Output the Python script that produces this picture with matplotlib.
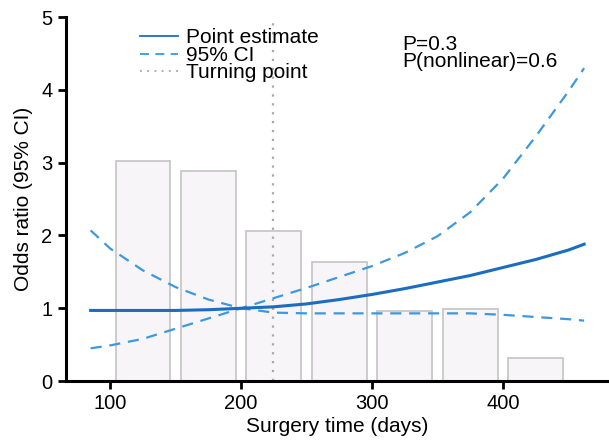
import numpy as np
import matplotlib
matplotlib.use('Agg')
import matplotlib.pyplot as plt

plt.rcParams['font.family'] = ['Liberation Sans', 'DejaVu Sans']

# histogram of surgery time (scaled), bin centres and heights
bin_centers = [125, 175, 225, 275, 325, 375, 425]
bin_heights = [3.02, 2.88, 2.06, 1.64, 0.96, 0.99, 0.32]

# restricted cubic spline curve
xs = [85, 100, 125, 150, 175, 200, 225, 250, 275, 300, 325, 350, 375, 400, 425, 450, 462]
point_est = [0.97, 0.97, 0.97, 0.97, 0.98, 1.00, 1.02, 1.06, 1.12, 1.19, 1.27, 1.36, 1.45, 1.56, 1.67, 1.80, 1.88]
ci_upper = [0.45, 0.49, 0.58, 0.72, 0.86, 1.00, 1.14, 1.28, 1.43, 1.58, 1.76, 1.99, 2.32, 2.78, 3.36, 3.98, 4.30]
ci_lower = [2.07, 1.82, 1.52, 1.29, 1.12, 1.00, 0.94, 0.93, 0.93, 0.93, 0.93, 0.93, 0.93, 0.91, 0.88, 0.85, 0.83]
turning = 224

fig = plt.figure(figsize=(6.09, 4.40), dpi=100)
ax = fig.add_axes([0.108, 0.134, 0.892, 0.827])

ax.bar(bin_centers, bin_heights, width=42, color='#f7f5f7', edgecolor='#c8c8c8', linewidth=1.3, zorder=1)
ax.axvline(turning, color='#a8a8a8', linestyle=(0, (1, 3)), linewidth=1.6, zorder=2, label='Turning point')
ax.plot(xs, point_est, color='#1a6dbf', linewidth=2.2, zorder=4, label='Point estimate')
ax.plot(xs, ci_upper, color='#3d98df', linewidth=1.6, linestyle=(0, (5, 3.5)), zorder=3, label='95% CI')
ax.plot(xs, ci_lower, color='#3d98df', linewidth=1.6, linestyle=(0, (5, 3.5)), zorder=3)

ax.set_xlim(66, 481)
ax.set_ylim(0, 5)
ax.set_xticks([100, 200, 300, 400])
ax.set_yticks([0, 1, 2, 3, 4, 5])
for s in ['top', 'right']:
    ax.spines[s].set_visible(False)
for s in ['left', 'bottom']:
    ax.spines[s].set_linewidth(2.2)
ax.tick_params(width=2.0, length=6, labelsize=14.5)
ax.set_xlabel('Surgery time (days)', fontsize=15, labelpad=3)
ax.set_ylabel('Odds ratio (95% CI)', fontsize=15, labelpad=6)

h, l = ax.get_legend_handles_labels()
order = [1, 2, 0]
leg = ax.legend([h[i] for i in order], [l[i] for i in order], frameon=False, fontsize=15,
                loc='upper left', bbox_to_anchor=(0.118, 0.998), labelspacing=-0.07,
                handlelength=1.8, handletextpad=0.4, borderpad=0)
for line in leg.get_lines():
    line.set_linewidth(1.3)

ax.text(0.62, 0.95, 'P=0.3\nP(nonlinear)=0.6', transform=ax.transAxes, fontsize=15,
        va='top', ha='left', linespacing=0.82)

fig.savefig('out.png', dpi=100)
